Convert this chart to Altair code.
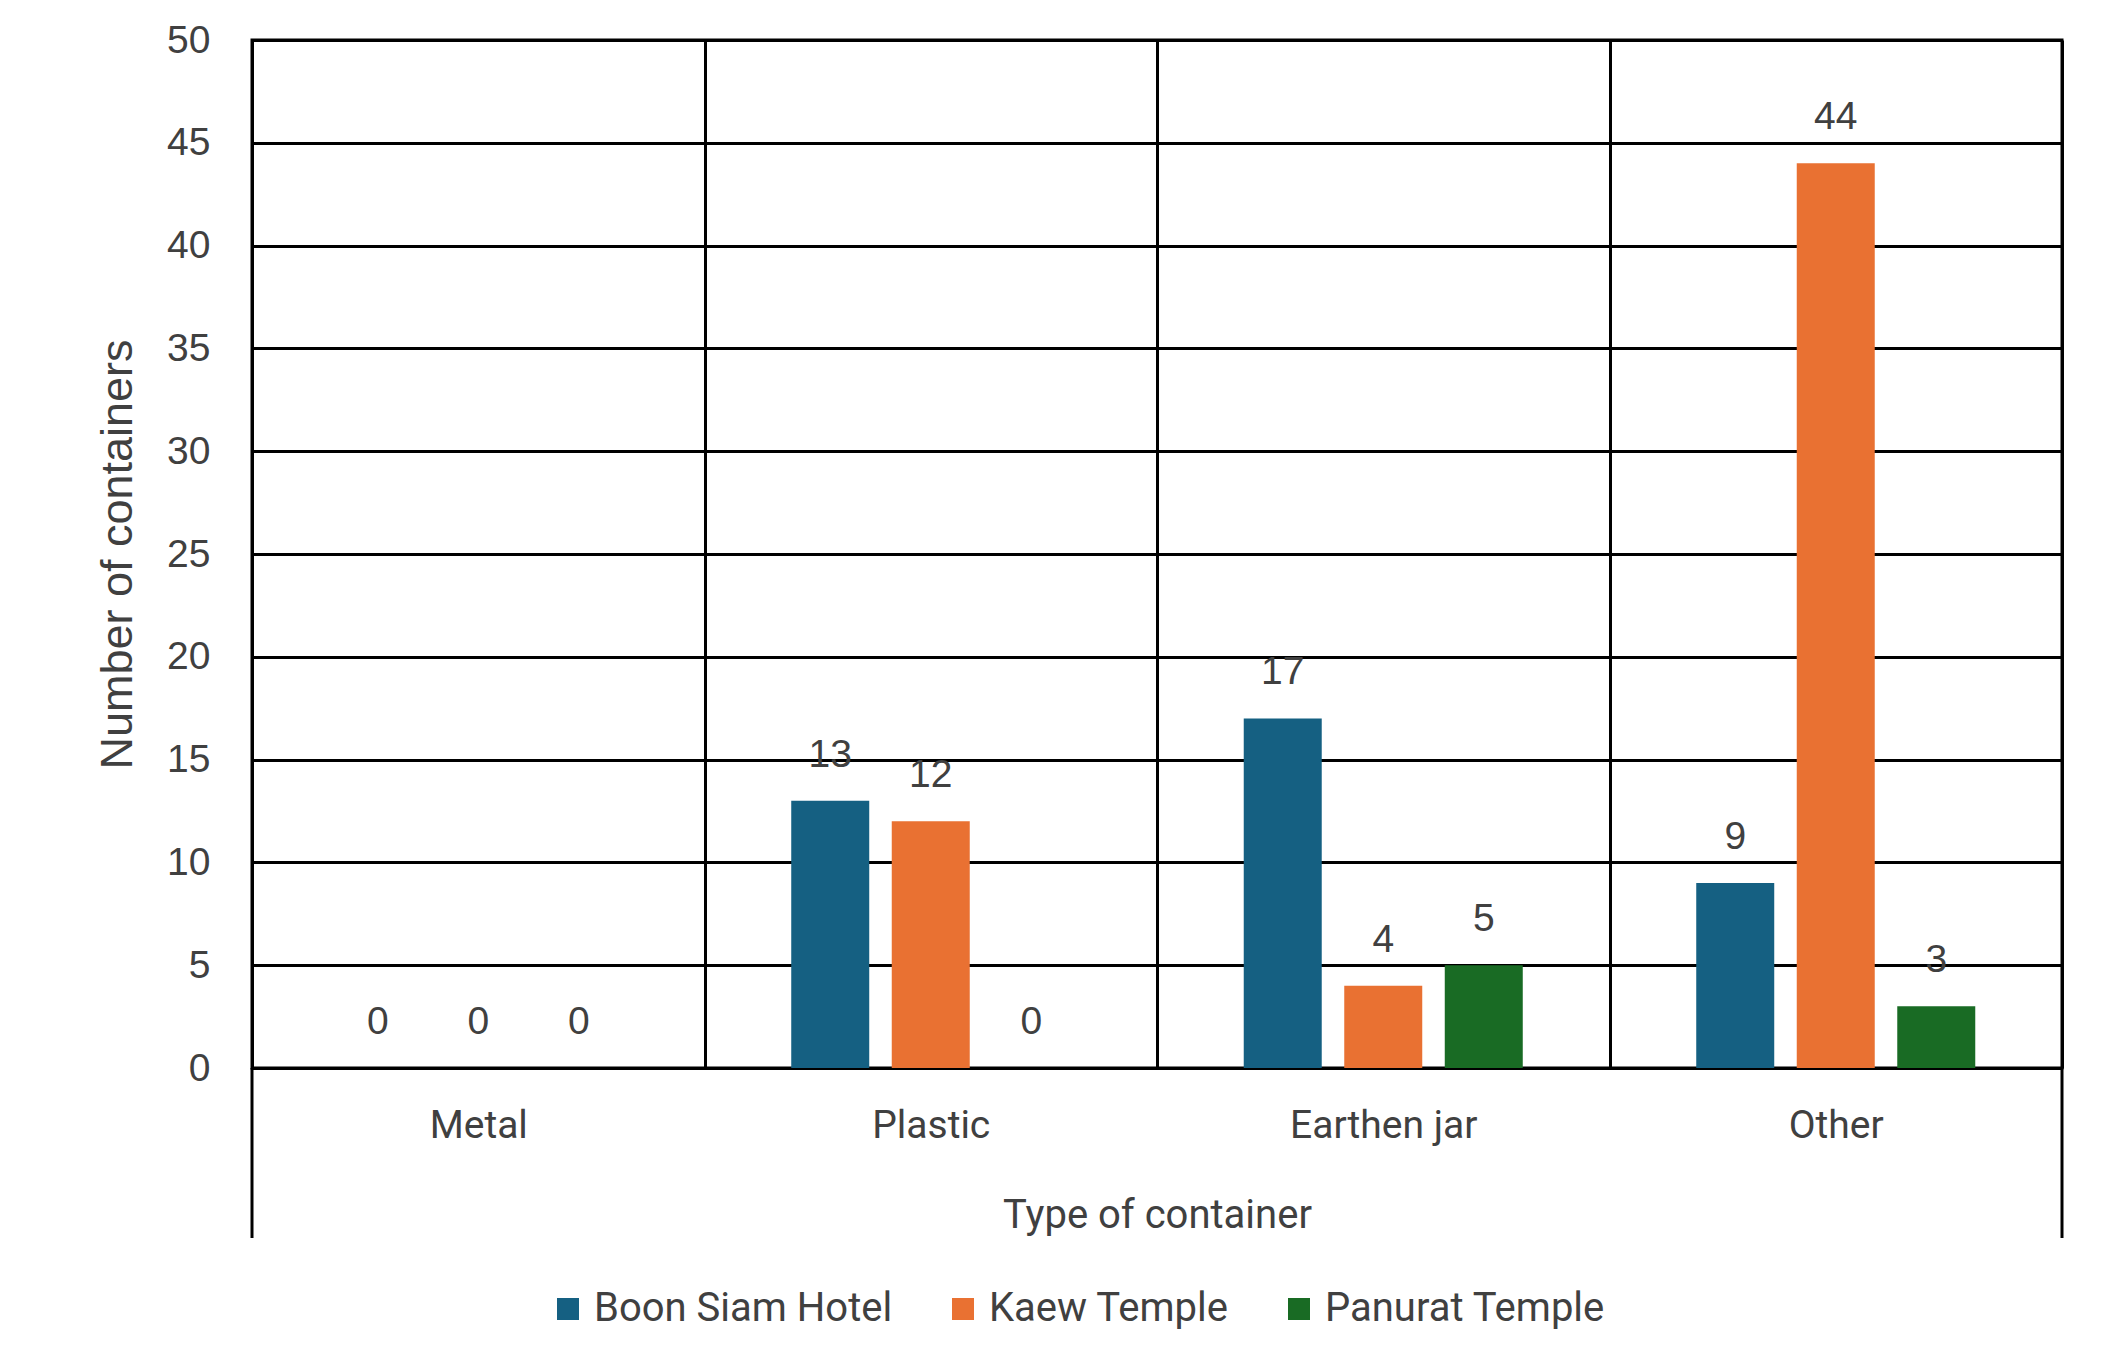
import altair as alt
import pandas as pd

# Container counts per site and container type
categories = ["Metal", "Plastic", "Earthen jar", "Other"]
sites = ["Boon Siam Hotel", "Kaew Temple", "Panurat Temple"]
boon_siam = [0, 13, 17, 9]
kaew = [0, 12, 4, 44]
panurat = [0, 0, 5, 3]
site_colors = ["#156082", "#E97132", "#196B24"]
y_ticks = [0, 5, 10, 15, 20, 25, 30, 35, 40, 45, 50]

rows = []
for site, values in zip(sites, [boon_siam, kaew, panurat]):
    for cat, v in zip(categories, values):
        rows.append({"type": cat, "site": site, "count": v})
df = pd.DataFrame(rows)

TEXT = "#404040"
W, H = 1810, 1028
FRAME_DROP = 170  # how far the outer frame lines run below the baseline

x_enc = alt.X(
    "type:N",
    sort=categories,
    scale=alt.Scale(paddingInner=0, paddingOuter=0),
    axis=alt.Axis(
        title="Type of container",
        labelAngle=0,
        labelFont="Roboto",
        labelFontSize=39,
        labelColor=TEXT,
        labelPadding=38,
        labelLimit=500,
        ticks=False,
        tickBand="extent",
        grid=True,
        gridColor="black",
        gridWidth=3,
        domain=False,
        titleFont="Roboto",
        titleFontSize=40,
        titleFontWeight="normal",
        titleColor=TEXT,
        titleBaseline="middle",
        titleY=147,
    ),
)
xoff_enc = alt.XOffset(
    "site:N",
    sort=sites,
    scale=alt.Scale(paddingInner=0.224, paddingOuter=0.863),
)
y_enc = alt.Y(
    "count:Q",
    scale=alt.Scale(domain=[0, 50], nice=False),
    axis=alt.Axis(
        title="Number of containers",
        values=y_ticks,
        ticks=False,
        domain=False,
        grid=True,
        gridColor="black",
        gridWidth=3,
        labelFont="Liberation Sans",
        labelFontSize=39,
        labelColor=TEXT,
        labelPadding=42,
        titleFont="Liberation Sans",
        titleFontSize=45,
        titleFontWeight="normal",
        titleColor=TEXT,
        titlePadding=26,
    ),
)

bars = alt.Chart(df).mark_bar().encode(
    x=x_enc,
    xOffset=xoff_enc,
    y=y_enc,
    color=alt.Color(
        "site:N",
        sort=sites,
        scale=alt.Scale(domain=sites, range=site_colors),
        legend=alt.Legend(
            title=None,
            orient="none",
            direction="horizontal",
            legendX=296,
            legendY=1249,
            symbolType="square",
            symbolSize=484,
            symbolStrokeWidth=0,
            labelFont="Roboto",
            labelFontSize=40,
            labelColor=TEXT,
            labelOffset=6,
            columnPadding=50,
            labelLimit=600,
        ),
    ),
)

labels = alt.Chart(df).mark_text(
    font="Liberation Sans",
    fontSize=39,
    color=TEXT,
    baseline="alphabetic",
    dy=-34,
).encode(
    x=alt.X("type:N", sort=categories),
    xOffset=alt.XOffset("site:N", sort=sites),
    y=alt.Y("count:Q"),
    text=alt.Text("count:Q"),
)

# outer frame lines continue below the baseline down past the axis title
frame_left = alt.Chart(pd.DataFrame({"type": [categories[0]]})).mark_rule(
    color="black", strokeWidth=3
).encode(
    x=alt.X("type:N", sort=categories, bandPosition=0),
    y=alt.value(H),
    y2=alt.value(H + FRAME_DROP),
)
frame_right = alt.Chart(pd.DataFrame({"type": [categories[-1]]})).mark_rule(
    color="black", strokeWidth=3
).encode(
    x=alt.X("type:N", sort=categories, bandPosition=1),
    y=alt.value(H),
    y2=alt.value(H + FRAME_DROP),
)

chart = (
    alt.layer(bars, labels, frame_left, frame_right)
    .properties(
        width=W,
        height=H,
        autosize=alt.AutoSizeParams(type="none"),
        padding={"left": 252, "top": 40, "right": 40, "bottom": 279},
        background="white",
    )
    .configure_view(stroke="black", strokeWidth=3)
)

chart.save("out.html", embed_options={"renderer": "svg", "actions": False})
